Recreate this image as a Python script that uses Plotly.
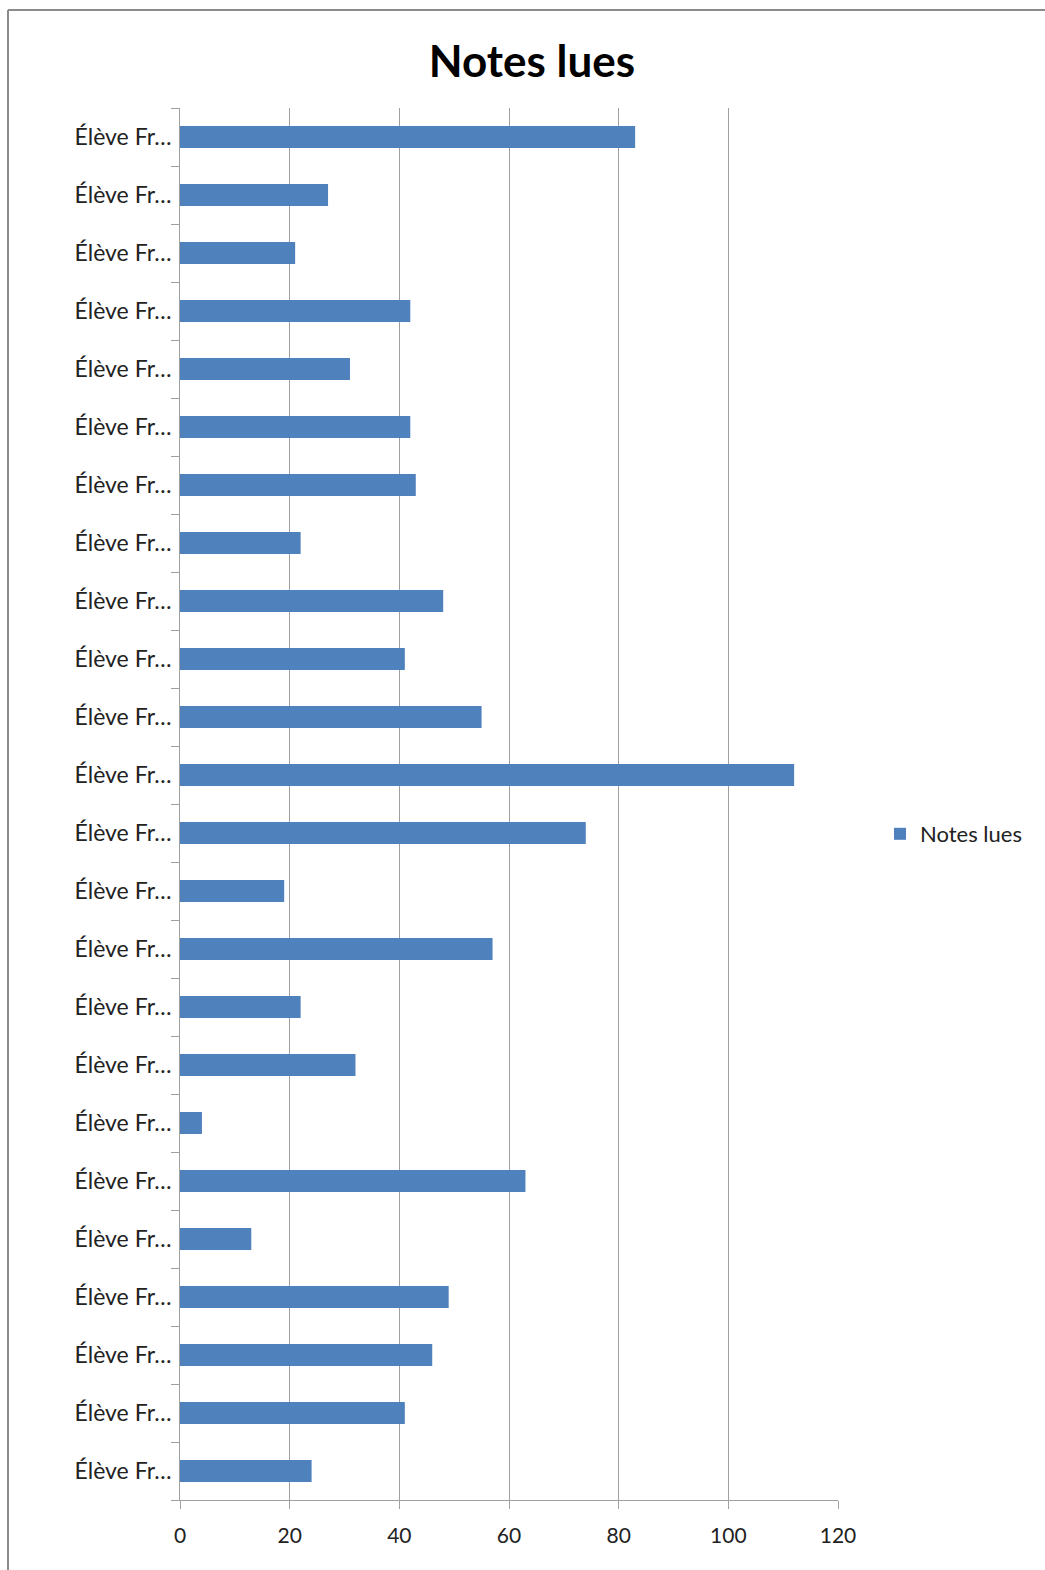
import plotly.graph_objects as go

labels = ["Élève Fr…"] * 24
values = [83, 27, 21, 42, 31, 42, 43, 22, 48, 41, 55, 112,
          74, 19, 57, 22, 32, 4, 63, 13, 49, 46, 41, 24]
x_ticks = [0, 20, 40, 60, 80, 100, 120]
series_name = "Notes lues"
title_text = "Notes lues"

W, H = 1045, 1570
L, R, T, B = 180, 838, 108, 1500
n = len(values)
pos = list(range(n))

def px(x):
    return (x - L) / (R - L)

def py(y):
    return (B - y) / (B - T)

fig = go.Figure()
fig.add_trace(go.Bar(
    x=values, y=pos, orientation="h", name=series_name,
    marker=dict(color="#4f81bd", line=dict(width=0)),
    width=0.38, showlegend=True,
))

grid = "#a0a0a0"
fig.update_layout(
    width=W, height=H,
    margin=dict(l=L, r=W - R, t=T, b=H - B, pad=0),
    paper_bgcolor="white", plot_bgcolor="white",
    font=dict(family="Lato, Open Sans, sans-serif", size=20, color="#222"),
    title=dict(text="<b>" + title_text + "</b>", x=0.509, xref="container",
               y=1 - 62 / H, yref="container", xanchor="center", yanchor="middle",
               font=dict(size=44, color="black", family="Lato, Open Sans, sans-serif")),
    xaxis=dict(range=[0, 120], tickvals=x_ticks, ticktext=[str(v) for v in x_ticks],
               showgrid=True, gridcolor=grid, gridwidth=1, zeroline=False,
               showline=True, linecolor=grid, linewidth=1,
               ticks="outside", ticklen=8, tickcolor=grid, tickwidth=1,
               ticklabelstandoff=9, tickfont=dict(size=21, color="#222")),
    yaxis=dict(range=[n - 0.5, -0.5], tickmode="array", tickvals=pos, ticktext=labels,
               showgrid=False, zeroline=False, showline=True, linecolor=grid, linewidth=1,
               ticks="", ticklabelstandoff=3, tickfont=dict(size=23, color="#222"),
               minor=dict(tickmode="array", tickvals=[i - 0.5 for i in range(n + 1)],
                          ticks="outside", ticklen=8, tickcolor=grid, tickwidth=1,
                          showgrid=False)),
    legend=dict(x=px(880), y=py(834), xanchor="left", yanchor="middle",
                font=dict(size=22, color="#222"), bgcolor="rgba(0,0,0,0)",
                itemwidth=30, tracegroupgap=0),
    bargap=0.62,
    shapes=[
        dict(type="line", xref="paper", yref="paper", x0=px(8), x1=px(8),
             y0=py(10), y1=py(1575), line=dict(color="#8c8c8c", width=2)),
        dict(type="line", xref="paper", yref="paper", x0=px(8), x1=px(1050),
             y0=py(10), y1=py(10), line=dict(color="#8c8c8c", width=2)),
    ],
)

fig.write_html("out.html")
